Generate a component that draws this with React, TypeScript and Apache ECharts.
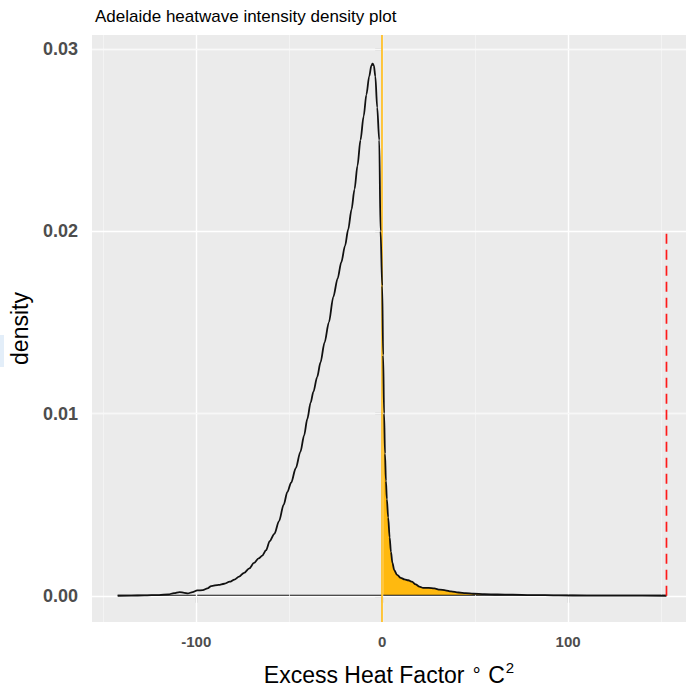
import React, { useEffect, useRef } from "react";
import * as echarts from "echarts";

// Density curve (Excess Heat Factor vs density)
const curveX = [
  -142.3, -135, -128, -120, -115, -112, -109, -106.5, -104.5, -102, -99.5, -96.5, -94, -92, -88, -85, -82, -79.5,
  -77, -74.3, -71.5, -69, -66.5, -64.5, -62.5, -60.5, -58, -55.5, -53, -51, -49, -46.5, -44, -42, -40.3, -38.5,
  -37, -35, -33.2, -31, -28.7, -26.3, -24, -22, -20, -18.3, -16.5, -14.9, -13.3, -11.7, -10, -8.5, -7, -5.8,
  -5.2, -4.5, -3.7, -2.7, -1.6, -0.9, 0, 0.5, 1, 1.5, 2, 2.5, 3.2, 4, 4.7, 5.5, 6.5, 8, 10, 12, 14, 16, 18, 20,
  22, 25, 28, 31, 34, 37, 41, 45, 49, 55, 62, 70, 80, 95, 110, 130, 152.9,
];
const curveY = [
  0, 0.00001, 0.00002, 0.00004, 0.00008, 0.00014, 0.0002, 0.00016, 0.00013, 0.0002, 0.00029, 0.00031, 0.0004,
  0.00053, 0.0006, 0.00066, 0.00077, 0.00089, 0.00105, 0.00126, 0.0015, 0.0018, 0.00205, 0.0022, 0.0025, 0.003,
  0.0034, 0.0041, 0.005, 0.0057, 0.0062, 0.007, 0.0079, 0.0088, 0.0097, 0.0106, 0.0112, 0.012, 0.0128, 0.0139,
  0.015, 0.0164, 0.0174, 0.0183, 0.0192, 0.0201, 0.0212, 0.0223, 0.0236, 0.025, 0.0263, 0.0275, 0.0285, 0.0291,
  0.0292, 0.0291, 0.0285, 0.0268, 0.025, 0.02, 0.017, 0.0132, 0.01, 0.0078, 0.0063, 0.0053, 0.0043, 0.0032,
  0.0024, 0.0018, 0.0014, 0.00115, 0.00098, 0.0009, 0.00085, 0.00077, 0.00062, 0.0005, 0.00043, 0.00043, 0.0004,
  0.00034, 0.0003, 0.00024, 0.00018, 0.00014, 0.00011, 0.00009, 0.00007, 0.00006, 0.00004, 0.00002, 0.00001,
  0.000005, 0,
];

const xTicks = [-100, 0, 100];
const yTicks = [0, 0.01, 0.02, 0.03];
const xMinorGrid = [-150, -50, 50, 150];
const yMinorGrid = [0.005, 0.015, 0.025];
const splitX = 0; // yellow reference line / fill start
const thresholdX = 152.9; // red dashed line
const thresholdTop = 0.02;

const X_MIN = -156.1;
const X_MAX = 163.4;
const Y_MIN = -0.00144;
const Y_MAX = 0.03077;

const FONT = "'Liberation Sans', Arial, Helvetica, sans-serif";
const YELLOW = "#FFB90F";

export default function App() {
  const ref = useRef<HTMLDivElement>(null);

  useEffect(() => {
    if (!ref.current) return;
    const chart = echarts.init(ref.current, undefined, { renderer: "svg" });

    const curve = curveX.map((x, i) => [x, curveY[i]]);
    const fill = curve.filter((p) => p[0] >= splitX);
    const baseline = [
      [curveX[0], 0],
      [curveX[curveX.length - 1], 0],
    ];

    const major = { color: "#FFFFFF", width: 1.4, type: "solid" as const };
    const minor = { color: "#F6F6F6", width: 0.7, type: "solid" as const };
    const gridLines: any[] = [];
    xTicks.forEach((v) => gridLines.push({ xAxis: v, lineStyle: major }));
    xMinorGrid.forEach((v) => gridLines.push({ xAxis: v, lineStyle: minor }));
    yTicks.forEach((v) => gridLines.push({ yAxis: v, lineStyle: major }));
    yMinorGrid.forEach((v) => gridLines.push({ yAxis: v, lineStyle: minor }));

    chart.setOption({
      animation: false,
      backgroundColor: "#FFFFFF",
      textStyle: { fontFamily: FONT },
      title: {
        text: "Adelaide heatwave intensity density plot",
        left: 90,
        top: 3,
        textStyle: { fontSize: 17, fontWeight: "normal", color: "#000000", fontFamily: FONT },
      },
      graphic: [
        { type: "rect", shape: { x: 0, y: 335, width: 4, height: 32 }, style: { fill: "#E3EEF9" } },
      ],
      grid: {
        left: 91,
        right: 0,
        top: 35,
        bottom: 67,
        show: true,
        backgroundColor: "#EBEBEB",
        borderWidth: 0,
      },
      xAxis: {
        type: "value",
        min: X_MIN,
        max: X_MAX,
        splitLine: { show: false },
        axisLine: { show: false },
        axisTick: {
          show: true,
          customValues: xTicks,
          length: 7,
          lineStyle: { color: "#4D4D4D", width: 1.2 },
        },
        axisLabel: {
          customValues: xTicks,
          fontSize: 15,
          fontWeight: "bold",
          color: "#4D4D4D",
          margin: 12,
          fontFamily: FONT,
        },
        name: "Excess Heat Factor {deg|∘} C{sup|2}",
        nameLocation: "middle",
        nameGap: 38,
        nameTextStyle: {
          fontSize: 23,
          color: "#000000",
          fontFamily: FONT,
          rich: {
            deg: { fontSize: 18, verticalAlign: "top", padding: [0, 0, 6, 0], color: "#000000", fontFamily: FONT },
            sup: { fontSize: 15, verticalAlign: "top", padding: [0, 0, 14, 1], color: "#000000", fontFamily: FONT },
          },
        },
      },
      yAxis: {
        type: "value",
        min: Y_MIN,
        max: Y_MAX,
        splitLine: { show: false },
        axisLine: { show: false },
        axisTick: {
          show: true,
          customValues: yTicks,
          length: 7,
          lineStyle: { color: "#4D4D4D", width: 1.2 },
        },
        axisLabel: {
          customValues: yTicks,
          formatter: (v: number) => v.toFixed(2),
          fontSize: 18,
          fontWeight: "bold",
          color: "#4D4D4D",
          margin: 14,
          fontFamily: FONT,
        },
        name: "density",
        nameLocation: "middle",
        nameGap: 61,
        nameRotate: 90,
        nameTextStyle: { fontSize: 23, color: "#000000", fontFamily: FONT },
      },
      series: [
        {
          name: "grid",
          type: "line",
          z: 1,
          data: baseline,
          symbol: "none",
          lineStyle: { width: 0, opacity: 0 },
          silent: true,
          markLine: {
            silent: true,
            symbol: ["none", "none"],
            label: { show: false },
            data: gridLines,
          },
        },
        {
          name: "fill",
          type: "line",
          z: 2,
          data: fill,
          symbol: "none",
          smooth: 0.3,
          smoothMonotone: "x",
          lineStyle: { width: 0, opacity: 0 },
          areaStyle: { color: YELLOW, opacity: 1 },
          silent: true,
        },
        {
          name: "split",
          type: "line",
          z: 3,
          data: [],
          symbol: "none",
          silent: true,
          markLine: {
            silent: true,
            symbol: ["none", "none"],
            label: { show: false },
            data: [{ xAxis: splitX, lineStyle: { color: YELLOW, width: 1.6, type: "solid" } }],
          },
        },
        {
          name: "baseline",
          type: "line",
          z: 4,
          data: baseline,
          symbol: "none",
          lineStyle: { color: "#111111", width: 1.8 },
          silent: true,
        },
        {
          name: "density",
          type: "line",
          z: 5,
          data: curve,
          symbol: "none",
          smooth: 0.3,
          smoothMonotone: "x",
          lineStyle: { color: "#111111", width: 1.8 },
          silent: true,
        },
        {
          name: "threshold",
          type: "line",
          z: 6,
          data: [
            [thresholdX, 0],
            [thresholdX, thresholdTop],
          ],
          symbol: "none",
          lineStyle: { color: "#FF1A1A", width: 1.7, type: [10, 6] },
          silent: true,
        },
      ],
    });

    return () => chart.dispose();
  }, []);

  return (
    <div
      ref={ref}
      style={{ position: "absolute", left: 0, top: 0, width: 686, height: 691 }}
    />
  );
}
